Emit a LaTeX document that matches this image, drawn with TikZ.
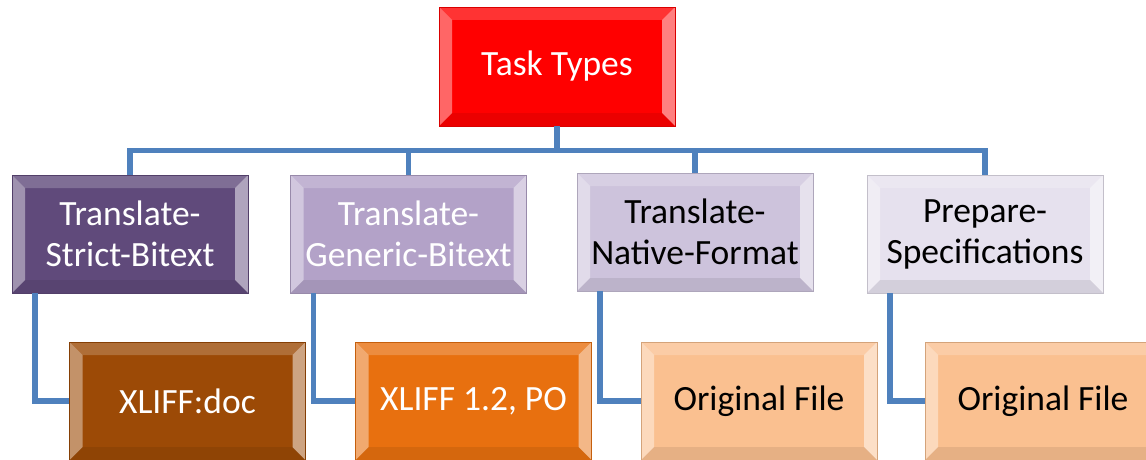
\documentclass[tikz,border=0pt]{standalone}
\usepackage{fontspec}
\setmainfont{Carlito}
\definecolor{cRed}{HTML}{FF0000}
\definecolor{cPurpleD}{HTML}{604A7B}
\definecolor{cPurpleM}{HTML}{B3A2C8}
\definecolor{cPurpleL}{HTML}{CDC3DC}
\definecolor{cPurpleX}{HTML}{E6E1EE}
\definecolor{cBrown}{HTML}{9C4A06}
\definecolor{cOrange}{HTML}{E8700F}
\definecolor{cPeach}{HTML}{FAC090}
\definecolor{cLine}{HTML}{4F81BD}
\tikzset{
  bevbox/.style={rectangle, fill=#1, draw=#1!85!black, line width=0.6pt,
    minimum width=236pt, minimum height=118pt, inner sep=0pt, align=center,
    font=\fontsize{35.5}{41}\selectfont,
    path picture={
      \coordinate (pSW) at (path picture bounding box.south west);
      \coordinate (pNE) at (path picture bounding box.north east);
      \coordinate (pNW) at (pSW |- pNE);
      \coordinate (pSE) at (pNE |- pSW);
      \fill[white,opacity=0.40] (pSW) -- ([shift={(13pt,13pt)}]pSW) -- ([shift={(13pt,-13pt)}]pNW) -- (pNW) -- cycle;
      \fill[white,opacity=0.50] (pSE) -- ([shift={(-13pt,13pt)}]pSE) -- ([shift={(-13pt,-13pt)}]pNE) -- (pNE) -- cycle;
      \fill[white,opacity=0.20] (pNW) -- ([shift={(13pt,-13pt)}]pNW) -- ([shift={(-13pt,-13pt)}]pNE) -- (pNE) -- cycle;
      \fill[black,opacity=0.08] (pSW) -- ([shift={(13pt,13pt)}]pSW) -- ([shift={(-13pt,13pt)}]pSE) -- (pSE) -- cycle;
    }},
  conn/.style={draw=cLine, line width=5.5pt}
}
\begin{document}
\begin{tikzpicture}[x=1pt,y=-1pt]
\useasboundingbox (0,0) rectangle (1146,460);
\node[bevbox=cRed, text=white, minimum height=119pt] (top) at (557,66.5) {Task Types};
\node[bevbox=cPurpleD, text=white] (A) at (130,234) {Translate-\\Strict-Bitext};
\node[bevbox=cPurpleM, text=white] (B) at (408.5,234) {Translate-\\Generic-Bitext};
\node[bevbox=cPurpleL, text=black] (C) at (695,232) {Translate-\\Native-Format};
\node[bevbox=cPurpleX, text=black] (D) at (985,234) {Prepare-\\Specifications};
\node[bevbox=cBrown, text=white] (A2) at (187.5,401) {XLIFF:doc};
\node[bevbox=cOrange, text=white] (B2) at (473.5,401) {XLIFF 1.2, PO};
\node[bevbox=cPeach, text=black] (C2) at (759,401) {Original File};
\node[bevbox=cPeach, text=black] (D2) at (1043,401) {Original File};
\foreach \n in {A,B,C,D}{
  \draw[conn] (top.south) -- ++(0,-24pt) -| (\n.north);
}
\draw[conn] ([xshift=-95pt]A.south) |- (A2.west);
\draw[conn] ([xshift=-95pt]B.south) |- (B2.west);
\draw[conn] ([xshift=-95pt]C.south) |- (C2.west);
\draw[conn] ([xshift=-95pt]D.south) |- (D2.west);
\end{tikzpicture}
\end{document}
